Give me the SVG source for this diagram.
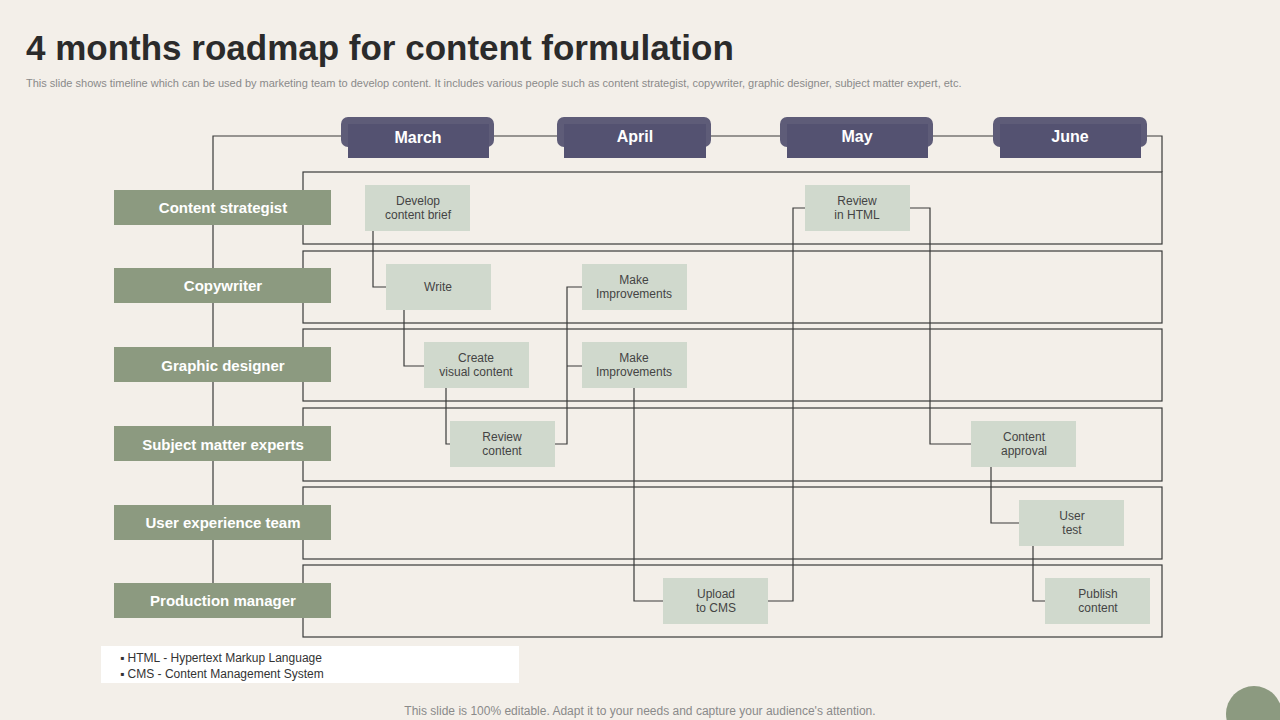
<svg xmlns="http://www.w3.org/2000/svg" width="1280" height="720" viewBox="0 0 1280 720">
<style>
.t{font-family:"Liberation Sans",Arial,sans-serif}
.row{fill:none;stroke:#3a3a3a;stroke-width:1.2}
.lbl rect{fill:#8c9a80}
.lbl text{font-family:"Liberation Sans",Arial,sans-serif;font-weight:bold;font-size:15px;fill:#fff;text-anchor:middle}
.mo .b{fill:#5e5c78}
.mo .f{fill:#545271}
.mo text{font-family:"Liberation Sans",Arial,sans-serif;font-weight:bold;font-size:16px;fill:#fff;text-anchor:middle}
.tk rect{fill:#d0d9cd}
.tk text{font-family:"Liberation Sans",Arial,sans-serif;font-size:12px;fill:#444;text-anchor:middle}
#connectors path{fill:none;stroke:#3a3a3a;stroke-width:1.2}
</style>
<rect width="1280" height="720" fill="#f3efe9"/>
<text class="t" x="26" y="60" font-size="35" font-weight="bold" fill="#2b2b2b">4 months roadmap for content formulation</text>
<text class="t" x="26" y="87" font-size="11" fill="#8a8a8a">This slide shows timeline which can be used by marketing team to develop content. It includes various people such as content strategist, copywriter, graphic designer, subject matter expert, etc.</text>
<g id="frame">
<path class="row" d="M213 600V136H1162V172"/>
<rect class="row" x="303" y="172" width="859" height="72"/>
<rect class="row" x="303" y="251" width="859" height="72"/>
<rect class="row" x="303" y="329" width="859" height="72"/>
<rect class="row" x="303" y="408" width="859" height="73"/>
<rect class="row" x="303" y="487" width="859" height="72"/>
<rect class="row" x="303" y="565" width="859" height="72"/>
</g>
<g id="m-march" class="mo"><rect class="b" x="341" y="117" width="153" height="30" rx="7"/><rect class="f" x="348" y="124" width="141" height="34"/><text x="418" y="143">March</text></g>
<g id="m-april" class="mo"><rect class="b" x="557" y="117" width="154" height="30" rx="7"/><rect class="f" x="564" y="124" width="142" height="34"/><text x="635" y="142">April</text></g>
<g id="m-may" class="mo"><rect class="b" x="780" y="117" width="153" height="30" rx="7"/><rect class="f" x="787" y="124" width="141" height="34"/><text x="857" y="142">May</text></g>
<g id="m-june" class="mo"><rect class="b" x="993" y="117" width="154" height="30" rx="7"/><rect class="f" x="1000" y="124" width="141" height="34"/><text x="1070" y="142">June</text></g>
<g id="l-cs" class="lbl"><rect x="114" y="190" width="217" height="35"/><text x="223" y="213">Content strategist</text></g>
<g id="l-cw" class="lbl"><rect x="114" y="268" width="217" height="35"/><text x="223" y="291">Copywriter</text></g>
<g id="l-gd" class="lbl"><rect x="114" y="347" width="217" height="35"/><text x="223" y="371">Graphic designer</text></g>
<g id="l-sme" class="lbl"><rect x="114" y="426" width="217" height="35"/><text x="223" y="450">Subject matter experts</text></g>
<g id="l-ux" class="lbl"><rect x="114" y="505" width="217" height="35"/><text x="223" y="528">User experience team</text></g>
<g id="l-pm" class="lbl"><rect x="114" y="583" width="217" height="35"/><text x="223" y="606">Production manager</text></g>
<g id="connectors">
<path d="M373 231V287H386"/>
<path d="M404 310V366H424"/>
<path d="M446 388V444H450"/>
<path d="M555 444H567V287H582M567 366H582"/>
<path d="M634 388V601H663"/>
<path d="M768 601H793V208H805"/>
<path d="M910 208H930V444H971"/>
<path d="M991 467V523H1019"/>
<path d="M1033 546V601H1045"/>
</g>
<g id="n1" class="tk"><rect x="365" y="185" width="105" height="46"/><text x="418" y="205">Develop</text><text x="418" y="219">content brief</text></g>
<g id="n2" class="tk"><rect x="386" y="264" width="105" height="46"/><text x="438" y="291">Write</text></g>
<g id="n3" class="tk"><rect x="424" y="342" width="105" height="46"/><text x="476" y="362">Create</text><text x="476" y="376">visual content</text></g>
<g id="n4" class="tk"><rect x="450" y="421" width="105" height="46"/><text x="502" y="441">Review</text><text x="502" y="455">content</text></g>
<g id="n5" class="tk"><rect x="582" y="264" width="105" height="46"/><text x="634" y="284">Make</text><text x="634" y="298">Improvements</text></g>
<g id="n6" class="tk"><rect x="582" y="342" width="105" height="46"/><text x="634" y="362">Make</text><text x="634" y="376">Improvements</text></g>
<g id="n7" class="tk"><rect x="663" y="578" width="105" height="46"/><text x="716" y="598">Upload</text><text x="716" y="612">to CMS</text></g>
<g id="n8" class="tk"><rect x="805" y="185" width="105" height="46"/><text x="857" y="205">Review</text><text x="857" y="219">in HTML</text></g>
<g id="n9" class="tk"><rect x="971" y="421" width="105" height="46"/><text x="1024" y="441">Content</text><text x="1024" y="455">approval</text></g>
<g id="n10" class="tk"><rect x="1019" y="500" width="105" height="46"/><text x="1072" y="520">User</text><text x="1072" y="534">test</text></g>
<g id="n11" class="tk"><rect x="1045" y="578" width="105" height="46"/><text x="1098" y="598">Publish</text><text x="1098" y="612">content</text></g>
<g id="legend">
<rect x="101" y="646" width="418" height="37" fill="#fff"/>
<text class="t" x="120" y="662" font-size="12" fill="#333">▪   HTML - Hypertext Markup Language</text>
<text class="t" x="120" y="678" font-size="12" fill="#333">▪   CMS - Content Management System</text>
</g>
<text class="t" x="640" y="715" font-size="12" fill="#8a8a8a" text-anchor="middle">This slide is 100% editable. Adapt it to your needs and capture your audience's attention.</text>
<circle cx="1254" cy="714" r="28" fill="#8c9a80"/>
</svg>
